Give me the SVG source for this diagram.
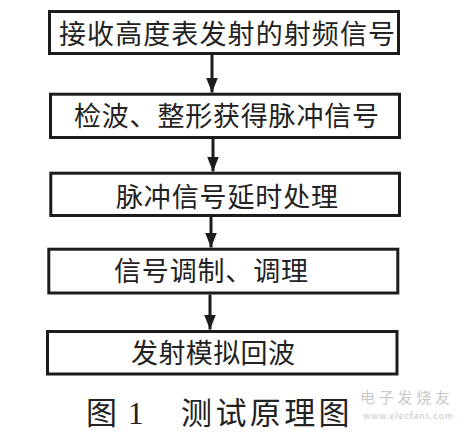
<svg xmlns="http://www.w3.org/2000/svg" width="469" height="435" viewBox="0 0 469 435">
<style>
.box{fill:#fff;stroke:#1c1c1c;stroke-width:3}
.lbl{font-family:"Liberation Serif","Noto Sans CJK SC",serif;font-size:27px;fill:#222}
.conn line{stroke:#1c1c1c;stroke-width:3}
.cap{font-family:"Liberation Serif","Noto Sans CJK SC",serif;font-size:31px;fill:#222}
.wm{font-family:"Noto Sans CJK SC",sans-serif;fill:#c8c8c8}
</style>
<defs>
<marker id="ah" viewBox="0 0 15 12" refX="15" refY="6" markerWidth="15" markerHeight="12" markerUnits="userSpaceOnUse" orient="auto">
<path d="M0,0 L15,6 L0,12 Z" fill="#1c1c1c"/>
</marker>
</defs>
<rect width="469" height="435" fill="#fff"/>
<g id="connectors" class="conn">
<line x1="212" y1="55" x2="212" y2="92.5" marker-end="url(#ah)"/>
<line x1="213" y1="139" x2="213" y2="171.5" marker-end="url(#ah)"/>
<line x1="211" y1="217" x2="211" y2="247.5" marker-end="url(#ah)"/>
<line x1="210" y1="294.5" x2="210" y2="329.5" marker-end="url(#ah)"/>
</g>
<g id="n1">
<rect class="box" x="49.5" y="11.5" width="349" height="42"/>
<text class="lbl" x="59" y="44" textLength="336" lengthAdjust="spacing">接收高度表发射的射频信号</text>
</g>
<g id="n2">
<rect class="box" x="50.5" y="94.2" width="349" height="43.3"/>
<text class="lbl" x="74" y="126" textLength="305" lengthAdjust="spacing">检波、整形获得脉冲信号</text>
</g>
<g id="n3">
<rect class="box" x="50.8" y="173.2" width="348.7" height="42.3"/>
<text class="lbl" x="116" y="207" textLength="222" lengthAdjust="spacing">脉冲信号延时处理</text>
</g>
<g id="n4">
<rect class="box" x="48.8" y="249.2" width="349" height="43.8"/>
<text class="lbl" x="114" y="281" textLength="194" lengthAdjust="spacing">信号调制、调理</text>
</g>
<g id="n5">
<rect class="box" x="47.5" y="331.5" width="349.5" height="42.5"/>
<text class="lbl" x="131" y="363" textLength="164" lengthAdjust="spacing">发射模拟回波</text>
</g>
<g id="caption">
<text class="cap" y="424"><tspan x="86">图</tspan><tspan x="128">1</tspan><tspan x="181" style="letter-spacing:3.4px">测试原理图</tspan></text>
</g>
<g id="watermark">
<text class="wm" x="360" y="403" font-size="15" textLength="90" lengthAdjust="spacing">电子发烧友</text>
<text class="wm" x="363" y="419" font-size="9" textLength="90" lengthAdjust="spacing">www.elecfans.com</text>
</g>
</svg>
